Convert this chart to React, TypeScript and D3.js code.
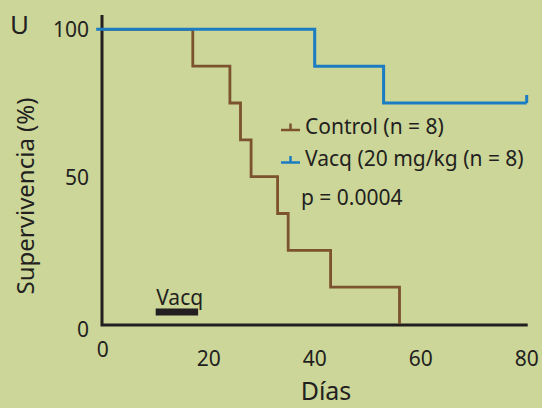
import * as d3 from "d3";

// Kaplan-Meier steps (day, % survival)
const controlDays = [0, 17, 24, 26, 28, 33, 35, 43, 56];
const controlSurv = [100, 87.5, 75, 62.5, 50, 37.5, 25, 12.5, 0];
const vacqDays = [0, 40, 53, 80];
const vacqSurv = [100, 87.5, 75, 75];

const xTicks = [0, 20, 40, 60, 80];
const yTicks = [0, 50, 100];
const treatment = [10, 18];

const legendLabels = ["Control (n = 8)", "Vacq (20 mg/kg (n = 8)"];
const pText = "p = 0.0004";

const W = 542;
const H = 408;
const bg = "#cbd698";
const ink = "#231f20";
const brown = "#7d522e";
const blue = "#1b7cc2";
const font = "'Noto Sans', sans-serif";

export default function App() {
  const x = d3.scaleLinear().domain([0, 80]).range([102.7, 526.7]);
  const y = d3.scaleLinear().domain([0, 100]).range([324, 29.3]);

  const step = (days: number[], surv: number[]) => {
    const pts: [number, number][] = days.map((d, i) => [x(d), y(surv[i])]);
    return d3.line().curve(d3.curveStepAfter)(pts) || "";
  };

  const controlPath = step(controlDays, controlSurv);
  // blue curve starts a little left of the y axis, as in the original
  const vacqPath = "M" + (x(0) - 6.5) + "," + y(100) + step(vacqDays, vacqSurv).replace(/^M[^L]*/, "L" + x(0) + "," + y(100));
  const lastX = x(vacqDays[vacqDays.length - 1]);
  const lastY = y(vacqSurv[vacqSurv.length - 1]);

  const legendX = 281;
  const legendRows = [130, 162.5];
  const colors = [brown, blue];

  return (
    <svg width={W} height={H} style={{ position: "fixed", top: 0, left: 0, display: "block", fontFamily: font }}>
      <rect width={W} height={H} fill={bg} />
      <text x={10} y={34} fontSize={26} fill={ink}>U</text>

      {/* axes */}
      <path d={`M${x(0) - 0.7},15V${y(0) + 1}H${x(80) + 1}`} fill="none" stroke={ink} strokeWidth={3} />

      {yTicks.map((t) => (
        <text key={t} x={89} y={y(t) + (t === 0 ? 12.5 : 8)} fontSize={21} textAnchor="end" fill={ink}>{t}</text>
      ))}
      {xTicks.map((t) => (
        <text key={t} x={x(t)} y={t === 0 ? 357 : 365.5} fontSize={21} textAnchor="middle" fill={ink}>{t}</text>
      ))}

      <text transform="translate(34,196) rotate(-90)" fontSize={24} textAnchor="middle" fill={ink}>Supervivencia (%)</text>
      <text x={326} y={400} fontSize={25} textAnchor="middle" fill={ink}>Días</text>

      {/* treatment bar */}
      <rect x={x(treatment[0])} y={308.5} width={x(treatment[1]) - x(treatment[0])} height={7} fill={ink} />
      <text x={x(treatment[0]) + 0.5} y={305} fontSize={21} fill={ink}>Vacq</text>

      {/* curves */}
      <path d={controlPath} fill="none" stroke={brown} strokeWidth={2.8} />
      <path d={vacqPath} fill="none" stroke={blue} strokeWidth={3} />
      <line x1={lastX} x2={lastX} y1={lastY} y2={lastY - 8} stroke={blue} strokeWidth={3} />

      {/* legend */}
      {legendLabels.map((l, i) => (
        <g key={l}>
          <line x1={legendX} x2={legendX + 19} y1={legendRows[i]} y2={legendRows[i]} stroke={colors[i]} strokeWidth={2.5} />
          <line x1={legendX + 9.5} x2={legendX + 9.5} y1={legendRows[i]} y2={legendRows[i] - 6.5} stroke={colors[i]} strokeWidth={2.5} />
          <text x={305} y={legendRows[i] + 3.5} fontSize={21} fill={ink}>{l}</text>
        </g>
      ))}
      <text x={301} y={205} fontSize={21} fill={ink}>{pText}</text>
    </svg>
  );
}
